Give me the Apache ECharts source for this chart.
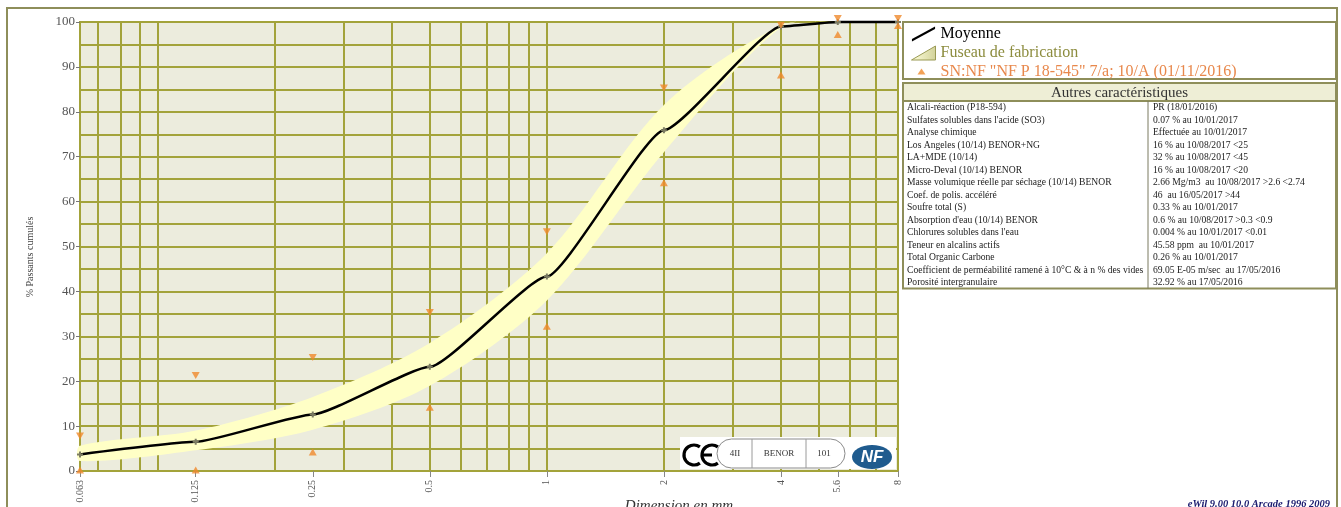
<!DOCTYPE html>
<html>
<head>
<meta charset="utf-8">
<script src="https://cdn.jsdelivr.net/npm/echarts@6/dist/echarts.min.js"></script>
<style>
  html, body { margin: 0; padding: 0; background: #fff; }
  #c { width: 1341px; height: 507px; }
</style>
</head>
<body>
<div id="c"></div>
<script>
// Sieve openings (mm) and their printed labels
const sieves = [0.063, 0.125, 0.25, 0.5, 1, 2, 4, 5.6, 8];
const sieveLabels = ['0.063', '0.125', '0.25', '0.5', '1', '2', '4', '5.6', '8'];

// Cumulative passing (%)
const moyenne   = [3.7, 6.5, 12.6, 23.2, 43.3, 75.9, 99, 100, 100];
const fuseauInf = [2.2, 4.6, 9.2, 19, 38, 71, 98.8, 100, 100];
const fuseauSup = [5.6, 9, 16.5, 28.5, 48.5, 81.5, 99.2, 100, 100];

// Specification limits SN:NF "NF P 18-545"
const snMax = [7, 20.5, 24.5, 34.5, 52.5, 84.5, 98.5, 100, 100];
const snMin = [1, 1, 5, 15, 33, 65, 89, 98, 100];

// Logarithmic grid lines of the sieve axis
const gridX = [0.07, 0.08, 0.09, 0.1, 0.2, 0.3, 0.4, 0.5, 0.6, 0.7, 0.8, 0.9, 1, 2, 3, 4, 5, 6, 7, 8];

// "Autres caractéristiques" table
const caracNoms = [
  'Alcali-réaction (P18-594)',
  "Sulfates solubles dans l'acide (SO3)",
  'Analyse chimique',
  'Los Angeles (10/14) BENOR+NG',
  'LA+MDE (10/14)',
  'Micro-Deval (10/14) BENOR',
  'Masse volumique réelle par séchage (10/14) BENOR',
  'Coef. de polis. accéléré',
  'Soufre total (S)',
  "Absorption d'eau (10/14) BENOR",
  "Chlorures solubles dans l'eau",
  'Teneur en alcalins actifs',
  'Total Organic Carbone',
  'Coefficient de perméabilité ramené à 10°C & à n % des vides',
  'Porosité intergranulaire'
];
const caracValeurs = [
  'PR (18/01/2016)',
  '0.07 % au 10/01/2017',
  'Effectuée au 10/01/2017',
  '16 % au 10/08/2017 <25',
  '32 % au 10/08/2017 <45',
  '16 % au 10/08/2017 <20',
  '2.66 Mg/m3  au 10/08/2017 >2.6 <2.74',
  '46  au 16/05/2017 >44',
  '0.33 % au 10/01/2017',
  '0.6 % au 10/08/2017 >0.3 <0.9',
  '0.004 % au 10/01/2017 <0.01',
  '45.58 ppm  au 10/01/2017',
  '0.26 % au 10/01/2017',
  '69.05 E-05 m/sec  au 17/05/2016',
  '32.92 % au 17/05/2016'
];

const SN_NAME = 'SN:NF "NF P 18-545" 7/a; 10/A (01/11/2016)';
const SERIF = 'Liberation Serif, Times New Roman, serif';
const OLIVE = '#a3a33a';
const FRAME = '#8e8e5a';
const ORANGE = '#f08a2c';
const BAND = '#ffffc6';

const pairs = (xs, ys) => xs.map((x, i) => [x, ys[i]]);

function sieveLabel(v) {
  let best = 0;
  sieves.forEach((s, i) => {
    if (Math.abs(Math.log(s) - Math.log(v)) < Math.abs(Math.log(sieves[best]) - Math.log(v))) best = i;
  });
  return sieveLabels[best];
}

// Table graphics
const tableLeft = 903, tableRight = 1336, colSplit = 1148;
const headTop = 83, headBottom = 101, rowH = 12.5;
const tableBottom = headBottom + rowH * caracNoms.length;
const tableEls = [
  { type: 'rect', z: 3, shape: { x: tableLeft, y: headTop, width: tableRight - tableLeft, height: headBottom - headTop },
    style: { fill: '#eeeed6', stroke: FRAME, lineWidth: 2 } },
  { type: 'text', z: 3, x: (tableLeft + tableRight) / 2, y: (headTop + headBottom) / 2 + 1,
    style: { text: 'Autres caractéristiques', font: '15px ' + SERIF, fill: '#333', align: 'center', verticalAlign: 'middle' } },
  { type: 'rect', z: 3, shape: { x: tableLeft, y: headBottom, width: tableRight - tableLeft, height: tableBottom - headBottom },
    style: { fill: '#fff', stroke: FRAME, lineWidth: 2 } },
  { type: 'line', z: 3, shape: { x1: colSplit, y1: headBottom, x2: colSplit, y2: tableBottom },
    style: { stroke: '#7a7a60', lineWidth: 1 } }
];
caracNoms.forEach((n, i) => {
  const y = headBottom + rowH * i + rowH / 2 + 0.5;
  tableEls.push({ type: 'text', z: 3, x: tableLeft + 4, y,
    style: { text: n, font: '9.6px ' + SERIF, fill: '#222', verticalAlign: 'middle' } });
  tableEls.push({ type: 'text', z: 3, x: colSplit + 5, y,
    style: { text: caracValeurs[i], font: '9.6px ' + SERIF, fill: '#222', verticalAlign: 'middle' } });
});

// Certification marks: CE, BENOR cartouche, NF
const ceArc = (cx) => ({ type: 'arc', shape: { cx, cy: 455, r: 10, startAngle: Math.PI * 0.3, endAngle: Math.PI * 1.7, clockwise: true },
  style: { stroke: '#000', lineWidth: 3.2, fill: null } });
const logoEls = [
  { type: 'rect', shape: { x: 680, y: 437, width: 216, height: 32 }, style: { fill: '#fff' } },
  ceArc(694),
  ceArc(712),
  { type: 'line', shape: { x1: 703, y1: 455, x2: 712, y2: 455 }, style: { stroke: '#000', lineWidth: 3 } },
  { type: 'rect', shape: { x: 717, y: 439, width: 128, height: 29, r: 14.5 }, style: { fill: '#fff', stroke: '#8a8a8a', lineWidth: 1 } },
  { type: 'line', shape: { x1: 752, y1: 439, x2: 752, y2: 468 }, style: { stroke: '#9a9a9a', lineWidth: 1 } },
  { type: 'line', shape: { x1: 806, y1: 439, x2: 806, y2: 468 }, style: { stroke: '#9a9a9a', lineWidth: 1 } },
  { type: 'text', x: 735, y: 454, style: { text: '4II', font: '9px ' + SERIF, fill: '#333', align: 'center', verticalAlign: 'middle' } },
  { type: 'text', x: 779, y: 454, style: { text: 'BENOR', font: '9px ' + SERIF, fill: '#333', align: 'center', verticalAlign: 'middle' } },
  { type: 'text', x: 824, y: 454, style: { text: '101', font: '9px ' + SERIF, fill: '#333', align: 'center', verticalAlign: 'middle' } },
  { type: 'ellipse', shape: { cx: 872, cy: 457, rx: 20, ry: 12 }, style: { fill: '#1f5b8e' } },
  { type: 'text', x: 872, y: 457, style: { text: 'NF', font: 'italic bold 17px Liberation Sans', fill: '#fff', align: 'center', verticalAlign: 'middle' } }
].map(el => Object.assign({ z: 20 }, el));

const chart = echarts.init(document.getElementById('c'), null, { renderer: 'canvas' });

chart.setOption({
  backgroundColor: '#fff',
  animation: false,
  grid: {
    left: 80, right: 443, top: 22, bottom: 36,
    show: true, backgroundColor: '#ececdd', borderColor: OLIVE, borderWidth: 2
  },
  legend: {
    left: 906, top: 21, orient: 'vertical',
    itemWidth: 24, itemHeight: 15, itemGap: 3,
    selectedMode: false,
    textStyle: { fontFamily: SERIF, fontSize: 16, lineHeight: 15 },
    data: [
      { name: 'Moyenne', icon: 'path://M0,13L24,0L24,2.6L0,15.6Z',
        itemStyle: { color: '#000', borderWidth: 0 }, textStyle: { color: '#000' } },
      { name: 'Fuseau de fabrication', icon: 'path://M0,15L24,15L24,1Z',
        itemStyle: {
          color: { type: 'linear', x: 0, y: 0, x2: 1, y2: 0,
            colorStops: [{ offset: 0, color: '#ffffdc' }, { offset: 1, color: '#d2d29a' }] },
          borderColor: '#9a9a55', borderWidth: 1
        },
        textStyle: { color: '#8c8c3e' } },
      { name: SN_NAME, icon: 'path://M0,0M24,15M6,10L14,10L10,4Z',
        itemStyle: { color: ORANGE, borderWidth: 0 }, textStyle: { color: '#e8884c' } }
    ]
  },
  xAxis: {
    type: 'log', logBase: 2, min: 0.063, max: 8,
    axisLine: { show: true, lineStyle: { color: OLIVE, width: 2 } },
    axisTick: { show: true, customValues: sieves, length: 6, lineStyle: { color: '#888' } },
    axisLabel: {
      customValues: sieves, rotate: 90, margin: 9,
      fontFamily: SERIF, fontSize: 10, color: '#555',
      formatter: v => sieveLabel(v)
    },
    splitLine: { show: false },
    minorTick: { show: false },
    minorSplitLine: { show: false }
  },
  yAxis: {
    type: 'value', min: 0, max: 100, interval: 10,
    axisLine: { show: true, lineStyle: { color: OLIVE, width: 2 } },
    axisTick: { show: true, length: 4, lineStyle: { color: '#777' } },
    axisLabel: { fontFamily: SERIF, fontSize: 13, color: '#555', margin: 5 },
    splitLine: { show: true, lineStyle: { color: OLIVE, width: 2 } },
    minorTick: { show: false, splitNumber: 2 },
    minorSplitLine: { show: true, lineStyle: { color: OLIVE, width: 2 } }
  },
  series: [
    {
      // Manufacturing envelope: upper limits forward, lower limits back
      name: 'Fuseau de fabrication', type: 'custom', z: 2, silent: true,
      data: [[1, 50]],
      itemStyle: { color: BAND },
      renderItem: (params, api) => {
        const upper = sieves.map((x, i) => api.coord([x, fuseauSup[i]]));
        const lower = sieves.map((x, i) => api.coord([x, fuseauInf[i]])).reverse();
        return {
          type: 'polygon',
          shape: { points: upper.concat(lower), smooth: 0.3 },
          style: { fill: BAND, stroke: null }
        };
      },
      markLine: {
        silent: true, symbol: ['none', 'none'], z: 1, animation: false,
        label: { show: false },
        lineStyle: { color: OLIVE, width: 2, type: 'solid' },
        data: gridX.map(v => ({ xAxis: v }))
      }
    },
    {
      name: 'Moyenne', type: 'line', smooth: 0.15, smoothMonotone: 'x',
      data: pairs(sieves, moyenne), z: 4, clip: false,
      symbol: 'path://M2,0H4V2H6V4H4V6H2V4H0V2H2Z', symbolSize: 6,
      itemStyle: { color: '#7c7c62' },
      lineStyle: { color: '#000', width: 2.5 }
    },
    {
      name: SN_NAME, type: 'scatter', data: pairs(sieves, snMax), z: 5, clip: false,
      symbol: 'triangle', symbolRotate: 180, symbolSize: [8, 7], symbolOffset: [0, -3.5],
      itemStyle: { color: ORANGE }
    },
    {
      name: SN_NAME, type: 'scatter', data: pairs(sieves, snMin), z: 5, clip: false,
      symbol: 'triangle', symbolSize: [8, 7], symbolOffset: [0, 3.5],
      itemStyle: { color: ORANGE }
    }
  ],
  graphic: [
    { type: 'rect', z: 0, silent: true, shape: { x: 7, y: 8, width: 1330, height: 510 },
      style: { fill: 'none', stroke: FRAME, lineWidth: 2 } },
    { type: 'rect', z: 0, silent: true, shape: { x: 903, y: 22, width: 433, height: 57 },
      style: { fill: 'none', stroke: FRAME, lineWidth: 2 } },
    { type: 'group', silent: true, children: tableEls },
    { type: 'group', silent: true, children: logoEls },
    { type: 'text', z: 3, x: 30, y: 257, rotation: Math.PI / 2, silent: true,
      style: { text: '% Passants cumulés', font: '10px ' + SERIF, fill: '#444', align: 'center', verticalAlign: 'middle' } },
    { type: 'text', z: 3, x: 679, y: 506, silent: true,
      style: { text: 'Dimension en mm', font: 'italic 15px ' + SERIF, fill: '#333', align: 'center', verticalAlign: 'middle' } },
    { type: 'text', z: 3, x: 1330, y: 504, silent: true,
      style: { text: 'eWil 9.00 10.0 Arcade 1996 2009', font: 'italic bold 10.5px ' + SERIF, fill: '#1a1a6e', align: 'right', verticalAlign: 'middle' } }
  ]
});
</script>
</body>
</html>
